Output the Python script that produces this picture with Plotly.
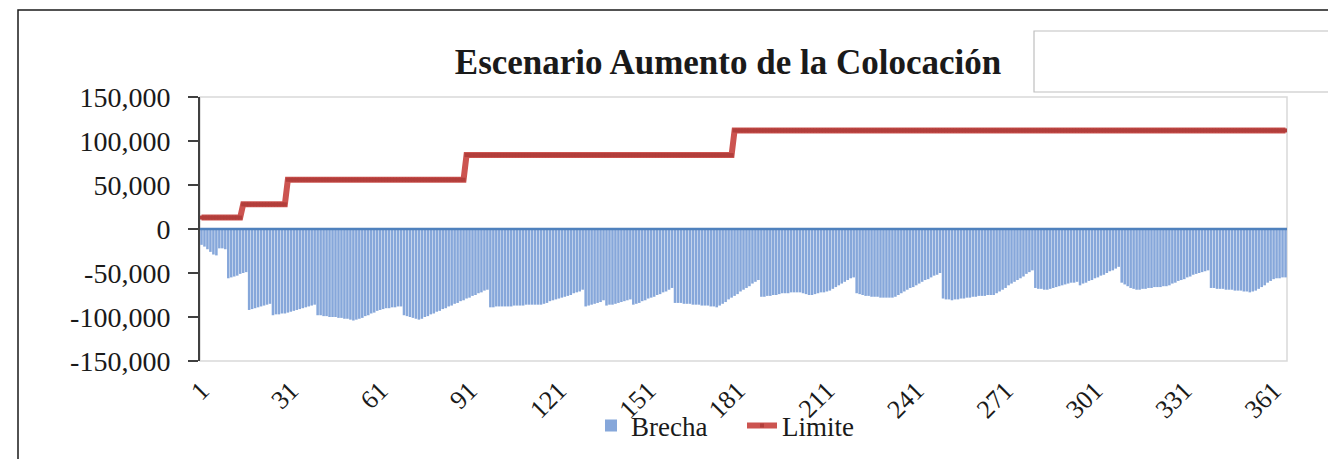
import plotly.graph_objects as go

# ---- data ----
days = list(range(1, 366))

# Brecha, in thousands (one value per day)
brecha_k = [
    -18, -20, -23, -26, -29, -30, -22, -22, -23, -56, -55, -54, -53, -51, -50, -49,
    -92, -91, -90, -89, -88, -87, -86, -85,
    -98, -97, -97, -96, -96, -95, -94, -93, -92, -91, -90, -89, -88, -87, -86,
    -98, -98, -99, -99, -100, -100, -100, -101, -101, -102, -102, -103, -104,
    -103, -102, -101, -99, -98, -96, -95, -93, -92, -91, -90, -90, -89, -89, -88, -88,
    -98, -99, -100, -101, -102, -103,
    -102, -100, -99, -97, -96, -94, -93, -91, -90, -88, -87, -85, -84, -82, -81, -79,
    -78, -76, -75, -73, -72, -70, -69,
    -89, -89, -88, -88, -88, -88, -88, -88, -87, -87, -87, -87, -86, -86, -86, -86, -86, -86,
    -85, -84, -82, -81, -80, -79, -78, -77, -76, -75, -73, -72, -71, -69,
    -88, -87, -86, -85, -84, -83, -81,
    -87, -86, -86, -85, -84, -83, -82, -81, -80,
    -86, -85, -84, -82, -81, -79, -78, -77, -75, -74, -72, -71, -69, -67,
    -84, -84, -84, -85, -85, -85, -86, -86, -86, -87, -87, -87, -88, -88, -89,
    -87, -85, -83, -80, -78, -76, -74, -71, -69, -67, -65, -62, -60, -58,
    -77, -77, -76, -76, -75, -75, -74, -73, -73, -73, -72, -72, -72, -72, -73, -74, -75,
    -75, -74, -73, -72, -72, -71, -70, -68, -66, -64, -62, -60, -58, -56, -55,
    -73, -74, -75, -76, -76, -77, -77, -77, -78, -78, -78, -78, -78, -77, -75, -73, -71,
    -69, -67, -66, -64, -62, -60, -58, -57, -55, -53, -52, -50,
    -79, -80, -80, -81, -80, -80, -79, -79, -78, -78, -77, -77, -76, -76, -76, -75, -75,
    -75, -73, -71, -69, -67, -64, -62, -60, -58, -56, -54, -51, -49, -47,
    -67, -68, -68, -69, -69, -68, -67, -66, -65, -64, -63, -62, -61, -61, -60, -64, -62,
    -61, -59, -58, -56, -55, -53, -52, -50, -48, -47, -45, -43,
    -61, -63, -65, -67, -68, -69, -69, -68, -68, -67, -67, -66, -66, -66, -65, -65, -64,
    -62, -61, -59, -58, -57, -55, -54, -52, -51, -50, -49, -48, -47,
    -67, -67, -68, -68, -68, -69, -69, -69, -70, -70, -70, -71, -71, -72, -71, -70, -68,
    -66, -64, -61, -59, -57, -56, -56, -55, -55,
]
brecha = [v * 1000 for v in brecha_k]

# Limite (step levels)
limite = [13000] * 14 + [28000] * 15 + [56000] * 60 + [84000] * 90 + [112000] * 186

x_tick_vals = [1, 31, 61, 91, 121, 151, 181, 211, 241, 271, 301, 331, 361]
x_tick_text = ["1", "31", "61", "91", "121", "151", "181", "211", "241", "271", "301", "331", "361"]
y_tick_vals = [150000, 100000, 50000, 0, -50000, -100000, -150000]
y_tick_text = ["150,000", "100,000", "50,000", "0", "-50,000", "-100,000", "-150,000"]

title_text = "Escenario Aumento de la Colocación"
series_names = ["Brecha", "Limite"]

# ---- figure ----
# the page body adds an 8px margin, so positions are given in page pixels minus 8
OFF = 8
W, H = 1336, 459
L = 200 - OFF
T = 97 - OFF
R = W - (1287 - OFF)
B = H - (361 - OFF)
pw, ph = W - L - R, H - T - B


def px_x(px):
    return (px - OFF - L) / pw


def px_y(py):
    return (H - B - (py - OFF)) / ph


FONT = "Liberation Serif, Times New Roman, serif"

fig = go.Figure()
fig.add_trace(go.Bar(
    x=days, y=brecha, name=series_names[0],
    marker=dict(color="#86A7DA", line=dict(width=0)),
))
fig.add_trace(go.Scatter(
    x=days, y=limite, name=series_names[1], mode="lines+markers",
    line=dict(color="#CC5450", width=6),
    marker=dict(symbol="square", size=4, color="#B23E3B"),
))

shapes = [
    # outer black frame
    dict(type="rect", xref="paper", yref="paper",
         x0=px_x(18), x1=px_x(1360), y0=px_y(480), y1=px_y(10),
         line=dict(color="#1a1a1a", width=1.5), layer="below"),
    # box next to the title
    dict(type="rect", xref="paper", yref="paper",
         x0=px_x(1034), x1=px_x(1360), y0=px_y(92), y1=px_y(31),
         line=dict(color="#BFBFBF", width=1.2), layer="below"),
    # plot area border
    dict(type="rect", xref="paper", yref="paper", x0=0, x1=1, y0=0, y1=1,
         line=dict(color="#D9D9D9", width=1.5), layer="below"),
    # category axis at zero
    dict(type="line", xref="paper", yref="y", x0=0, x1=1, y0=0, y1=0,
         line=dict(color="#4F81BD", width=2.5), layer="above"),
]

fig.update_layout(
    width=W, height=H,
    margin=dict(l=L, r=R, t=T, b=B, pad=0),
    paper_bgcolor="white", plot_bgcolor="white",
    font=dict(family=FONT, color="#1a1a1a", size=27),
    title=dict(text="<b>" + title_text + "</b>", x=px_x(728), xref="paper", xanchor="center",
               y=1 - (62 - OFF) / H, yref="container", yanchor="middle",
               font=dict(family=FONT, size=35, color="#1a1a1a")),
    bargap=0.15,
    showlegend=True,
    legend=dict(orientation="h", x=px_x(591), xanchor="left", y=px_y(426), yanchor="middle",
                font=dict(family=FONT, size=27, color="#1a1a1a"),
                bgcolor="rgba(0,0,0,0)", itemwidth=30, tracegroupgap=0,
                entrywidth=106, entrywidthmode="pixels"),
    shapes=shapes,
)
fig.update_xaxes(
    range=[0.5, 365.5], tickmode="array", tickvals=x_tick_vals, ticktext=x_tick_text,
    tickangle=-45, showgrid=False, zeroline=False, showline=False, ticks="",
    tickfont=dict(family=FONT, size=26), ticklabelstandoff=8,
)
fig.update_yaxes(
    range=[-150000, 150000], tickmode="array", tickvals=y_tick_vals, ticktext=y_tick_text,
    showgrid=False, zeroline=False, showline=True, linecolor="#404040", linewidth=2,
    ticks="outside", ticklen=10, tickwidth=2, tickcolor="#404040",
    tickfont=dict(family=FONT, size=28), ticklabelstandoff=12,
)

fig.write_html("out.html")
